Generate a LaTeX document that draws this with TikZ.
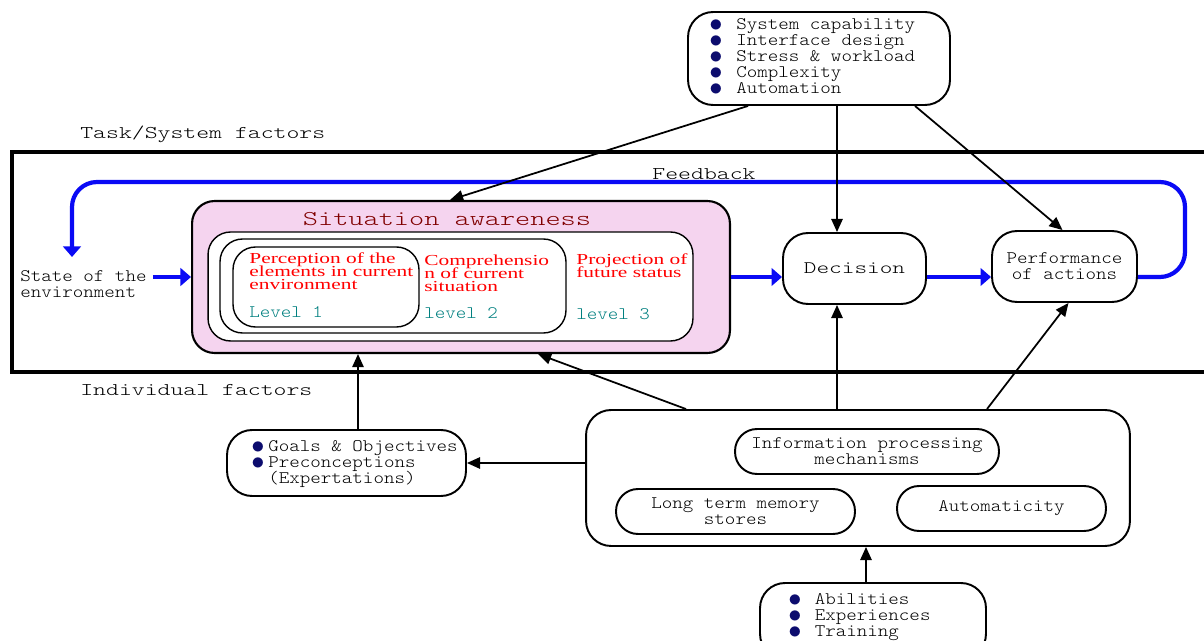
\documentclass[tikz,border=0pt]{standalone}
\usepackage{fontspec}
\usepackage{graphicx}
\setmainfont{Liberation Serif}
\setmonofont{lmmonolt10-regular.otf}[FakeStretch=1.14]
\newfontfamily\stretchserif{Liberation Serif}[FakeStretch=1.4]
\newfontfamily\widemono{lmmonolt10-regular.otf}[FakeStretch=1.37]
\usetikzlibrary{arrows.meta,calc}
\definecolor{navy}{RGB}{12,12,110}
\definecolor{sapink}{RGB}{245,212,239}
\definecolor{flowblue}{RGB}{10,10,245}
\definecolor{titlered}{RGB}{128,0,0}
\definecolor{levelteal}{RGB}{0,128,128}
\setlength{\lineskiplimit}{-20pt}
\newcommand{\bul}[1][0.54cm]{\makebox[#1][l]{\smash{\raisebox{-1pt}{\textcolor{navy}{\scalebox{1.5}{$\bullet$}}}}}}

\begin{document}
\begin{tikzpicture}[x=0.02cm,y=-0.02cm,
  box/.style={draw,line width=1.1pt,rounded corners=0.5cm,align=center,
    font=\ttfamily\fontsize{10}{9.07}\selectfont},
  level/.style={draw,fill=white,line width=0.8pt,rounded corners=0.45cm},
  txt/.style={inner sep=0pt,align=left,font=\ttfamily\fontsize{10}{9.07}\selectfont},
  bigtxt/.style={inner sep=0pt,font=\widemono\fontsize{10.2}{11}\selectfont},
  redtxt/.style={inner sep=0pt,anchor=west,align=left,text=red,
    font=\stretchserif\fontsize{8.7}{7.5}\selectfont},
  leveltxt/.style={inner sep=0pt,anchor=west,text=levelteal,
    font=\ttfamily\fontsize{10}{11}\selectfont},
  arr/.style={line width=1pt,-{Triangle[length=7.5pt,width=6.5pt]}},
  flow/.style={flowblue,line width=2.4pt,-{Triangle[length=6pt,width=10pt]}}
]
 \useasboundingbox (0,0) rectangle (1204,641);
 \clip (0,0) rectangle (1204,641);

 % task / system factors
 \node[box,minimum width=5.24cm,minimum height=1.86cm] (task) at (819,58.5) {};
 \node[txt,anchor=west] (tasklist) at (709,56)
   {\bul System capability\\ \bul Interface design\\ \bul Stress \& workload\\
    \bul Complexity\\ \bul Automation};
 \node[bigtxt,anchor=west] (tasklabel) at (80,134) {Task/System factors};

 \draw[line width=2.2pt] (1215,152) -- (12,152) -- (12,372) -- (1215,372);
 \node[bigtxt] (fblabel) at (704,174) {Feedback};
 \node[bigtxt,anchor=west] (indlabel) at (80,390) {Individual factors};

 % situation awareness
 \node[draw,fill=sapink,line width=1.2pt,rounded corners=0.45cm,
   minimum width=10.76cm,minimum height=3.04cm] (sa) at (461,277) {};
 \node[inner sep=0pt,text=titlered,font=\widemono\fontsize{12}{12}\selectfont]
   (satitle) at (447,219) {Situation awareness};
 \node[level,minimum width=9.7cm,minimum height=2.18cm] (lvthree) at (450.5,286.5) {};
 \node[level,minimum width=6.92cm,minimum height=1.88cm] (lvtwo) at (393,286) {};
 \node[level,minimum width=3.72cm,minimum height=1.6cm] (lvone) at (326,287) {};
 \node[redtxt] (perc) at (249,271) {Perception of the\\ elements in current\\ environment};
 \node[redtxt] (comp) at (424,273.5) {Comprehensio\\ n of current\\ situation};
 \node[redtxt] (proj) at (576,265.5) {Projection of\\ future status};
 \node[leveltxt] (lone) at (249,312) {Level 1};
 \node[leveltxt] (ltwo) at (424,313) {level 2};
 \node[leveltxt] (lthree) at (576,314) {level 3};

 \node[txt,anchor=west] (state) at (20,284) {State of the\\environment};
 \node[box,minimum width=2.86cm,minimum height=1.42cm,
   font=\widemono\fontsize{10}{10}\selectfont] (dec) at (854.5,268.5) {Decision};
 \node[box,minimum width=2.9cm,minimum height=1.42cm] (perf) at (1064.5,266.5)
   {Performance\\of actions};

 % individual factors
 \node[box,minimum width=10.88cm,minimum height=2.72cm] (ind) at (858,478) {};
 \node[box,minimum width=5.28cm,minimum height=0.9cm,rounded corners=0.44cm]
   (info) at (867,451.5) {Information processing\\mechanisms};
 \node[box,minimum width=4.78cm,minimum height=0.9cm,rounded corners=0.44cm]
   (ltm) at (735.5,511.5) {Long term memory\\stores};
 \node[box,minimum width=4.18cm,minimum height=0.9cm,rounded corners=0.44cm]
   (auto) at (1001.5,508.5) {Automaticity};
 \node[box,minimum width=4.78cm,minimum height=1.32cm] (goals) at (346.5,463) {};
 \node[txt,anchor=west] (goallist) at (251,464)
   {\bul[0.34cm]Goals \& Objectives\\ \bul[0.34cm]Preconceptions\\
    \hspace*{0.34cm}(Expertations)};
 \node[box,minimum width=4.52cm,minimum height=1.52cm] (abil) at (873,621) {};
 \node[txt,anchor=west] (abillist) at (788,617)
   {\bul[0.53cm]Abilities\\ \bul[0.53cm]Experiences\\ \bul[0.53cm]Training};

 % blue flow
 \coordinate (fbend) at (72,257);
 \draw[flow] ($(state.east |- sa.west)+(6,0)$) -- (sa.west);
 \draw[flow] (sa.east) -- (sa.east -| dec.west);
 \draw[flow] (dec.east |- sa.east) -- (perf.west |- sa.east);
 \draw[flow,rounded corners=0.5cm] (perf.east |- sa.east) -- (1185,277)
   -- (1185,182) -- (72,182) -- (fbend);

 % black arrows
 \draw[arr] ($(task.south)+(-71,0)$) -- ($(sa.north)+(-11,0)$);
 \draw[arr] ($(task.south)+(18,0)$) coordinate (t2) -- (t2 |- dec.north);
 \draw[arr] ($(task.south)+(96,0)$) -- ($(perf.north)+(-2,0)$);
 \draw[arr] ($(ind.north)+(-172,0)$) -- ($(sa.south)+(77,0)$);
 \draw[arr] ($(ind.north)+(-21,0)$) coordinate (i2) -- (i2 |- dec.south);
 \draw[arr] ($(ind.north)+(129,0)$) -- ($(perf.south)+(4,0)$);
 \draw[arr] (ind.west |- goals.east) -- (goals.east);
 \draw[arr] ($(goals.north)+(11.5,0)$) coordinate (g1) -- (g1 |- sa.south);
 \draw[arr] ($(abil.north)+(-7,0)$) coordinate (a1) -- (a1 |- ind.south);
\end{tikzpicture}
\end{document}
